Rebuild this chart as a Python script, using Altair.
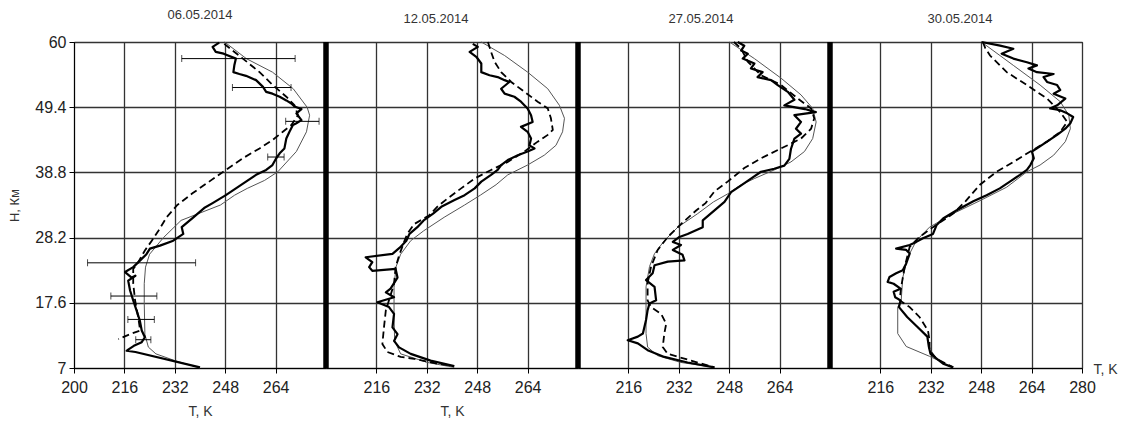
import altair as alt
import pandas as pd

# ---------------- data ----------------
Y_TICKS = [7, 17.6, 28.2, 38.8, 49.4, 60]
DATES = ["06.05.2014", "12.05.2014", "27.05.2014", "30.05.2014"]

# Panel 1 (06.05.2014)
P1_A_H = [59.9, 59.2, 58.4, 58.1, 57.3, 56.2, 55.1, 54.8, 54.5, 53.8, 52.7, 51.9, 51.6, 51.1, 50.5, 50.0, 49.5, 49.1,
          48.4, 47.3, 46.8, 46.5, 45.4, 44.3, 42.7, 41.9, 41.1, 40.0, 39.2, 38.4, 37.3, 36.2, 35.1, 33.8, 33.0, 31.5,
          29.9, 28.8, 27.7, 26.9, 26.4, 25.5, 24.5, 23.4, 22.6, 21.7, 22.0, 21.2, 19.6, 18.0, 16.3, 14.7, 13.1, 12.0,
          11.2, 10.6, 10.0, 9.8, 9.6, 7.1]
P1_A_T = [246.1, 244.0, 245.0, 247.5, 251.4, 250.9, 250.6, 252.5, 254.6, 257.8, 260.0, 261.0, 263.0, 265.3, 267.4,
          269.0, 270.0, 272.2, 270.6, 272.2, 270.6, 269.5, 268.4, 267.4, 266.8, 265.3, 264.2, 263.0, 261.0, 257.8,
          254.6, 251.4, 248.2, 244.0, 241.3, 237.9, 234.2, 234.7, 231.5, 227.3, 224.1, 223.0, 221.0, 218.8, 216.2,
          218.3, 219.5, 217.2, 217.8, 218.8, 219.9, 220.9, 221.5, 222.5, 221.5, 219.0, 217.2, 216.7, 219.5, 240.0]
P1_C_H = [59.7, 57.3, 55.1, 53.0, 51.1, 49.7, 48.1, 46.5, 45.4, 44.1, 42.7, 41.1, 39.2, 37.3, 35.4, 33.5, 31.5, 29.3,
          27.7, 26.1, 24.2, 23.1, 20.7, 18.0, 15.2, 13.1, 12.5, 11.7]
P1_C_T = [247.7, 253.6, 258.9, 263.1, 267.4, 270.0, 271.1, 269.0, 266.3, 263.1, 258.9, 253.6, 248.2, 242.9, 237.6,
          232.8, 229.4, 226.8, 224.7, 222.5, 220.4, 218.8, 218.8, 219.4, 220.4, 221.0, 217.8, 214.1]
P1_D_H = [60.0, 57.3, 55.1, 52.4, 49.4, 48.1, 45.4, 42.2, 38.9, 37.5, 36.2, 35.1, 33.5, 31.0, 28.2, 25.5, 23.4, 20.7,
          17.6, 12.5, 10.4, 9.3, 8.2, 7.0]
P1_D_T = [247.8, 254.7, 263.0, 269.6, 274.0, 274.8, 273.8, 270.6, 264.7, 260.5, 255.0, 251.0, 246.5, 234.0, 228.4,
          224.0, 222.7, 222.3, 222.3, 222.5, 223.6, 226.0, 232.0, 240.0]
P1_ERR_H = [57.3, 52.6, 47.1, 41.3, 24.1, 18.7, 14.9, 11.6]
P1_ERR_LO = [234.2, 250.3, 267.2, 261.5, 204.3, 211.7, 217.1, 219.6]
P1_ERR_HI = [270.2, 268.9, 277.8, 266.7, 238.6, 226.3, 225.5, 224.4]

# Panel 2 (12.05.2014)
P2_A_H = [59.7, 59.2, 58.4, 57.6, 56.5, 55.1, 54.6, 54.3, 53.8, 53.5, 52.4, 51.6, 51.1, 50.3, 49.2, 48.1, 47.0, 46.2,
          45.4, 44.3, 43.2, 42.7, 42.2, 41.6, 40.8, 40.0, 39.2, 38.4, 37.3, 36.2, 35.1, 34.3, 33.2, 32.1, 31.0, 29.9,
          28.8, 27.7, 26.6, 25.55, 25.0, 24.2, 23.4, 22.8, 23.1, 21.7, 19.9, 19.3, 18.5, 17.7, 16.9, 15.8, 13.6, 12.5,
          11.4, 10.35, 9.3, 8.2, 7.3]
P2_A_T = [246.6, 248.2, 245.6, 247.7, 249.3, 249.3, 251.9, 254.5, 256.7, 258.2, 255.6, 256.7, 259.8, 261.9, 264.0,
          265.1, 265.6, 261.9, 264.0, 265.1, 264.6, 266.2, 264.0, 260.9, 257.7, 255.6, 254.5, 252.4, 249.3, 247.2,
          244.0, 240.8, 236.6, 234.0, 231.0, 229.0, 226.5, 225.5, 223.5, 221.1, 212.6, 214.7, 213.7, 214.7, 222.1,
          222.7, 220.5, 219.0, 221.6, 216.3, 220.0, 221.6, 221.1, 222.7, 221.6, 223.2, 226.9, 233.2, 240.7]
P2_C_H = [60.0, 58.4, 56.8, 55.1, 53.5, 51.9, 50.3, 49.2, 47.6, 45.7, 44.9, 43.8, 42.2, 40.5, 39.2, 37.8, 36.2, 34.6,
          33.3, 31.8, 30.4, 28.8, 27.5, 25.3, 23.4, 20.7, 18.0, 16.4, 13.6, 10.9, 9.6, 8.8, 8.5, 7.7, 7.3]
P2_C_T = [251.4, 252.4, 253.5, 255.6, 258.8, 263.0, 267.2, 270.4, 271.4, 272.0, 270.4, 267.2, 263.0, 257.7, 252.4,
          247.2, 242.9, 238.7, 235.5, 232.7, 228.0, 225.8, 224.8, 223.2, 222.1, 221.6, 220.0, 219.0, 218.4, 217.9,
          219.5, 223.7, 228.0, 235.4, 240.7]
P2_D_H = [60.0, 57.8, 55.1, 52.4, 49.7, 47.6, 45.4, 43.2, 41.6, 40.0, 38.4, 36.8, 35.1, 33.5, 31.5, 29.3, 27.7, 25.5,
          23.4, 20.1, 15.2, 11.4, 9.3, 7.9, 7.1]
P2_D_T = [249.3, 256.7, 264.0, 270.4, 274.1, 275.7, 275.1, 273.0, 269.3, 264.0, 257.7, 254.0, 249.0, 244.0, 237.5,
          231.0, 226.9, 223.7, 222.2, 221.6, 221.6, 221.8, 223.7, 232.2, 240.7]

# Panel 3 (27.05.2014)
P3_A_H = [60.0, 59.4, 58.6, 58.1, 57.3, 56.5, 55.7, 55.1, 54.3, 53.8, 53.0, 51.9, 50.6, 49.7, 49.1, 48.6, 48.1, 47.0,
          45.9, 45.1, 44.3, 42.6, 41.0, 39.9, 39.4, 38.9, 37.8, 36.7, 35.6, 34.0, 31.0, 29.9, 28.8, 28.3, 27.5, 27.0,
          26.2, 25.4, 24.5, 24.3, 23.7, 22.4, 21.3, 20.2, 18.0, 17.5, 16.4, 14.8, 12.6, 12.1, 11.5, 11.0, 9.9, 8.8,
          7.9, 7.1]
P3_A_T = [250.7, 252.8, 251.8, 253.9, 252.3, 256.0, 254.9, 258.6, 257.0, 261.3, 263.4, 266.6, 268.7, 265.5, 272.0,
          275.5, 268.7, 270.8, 269.2, 270.8, 268.7, 267.6, 267.1, 265.5, 262.3, 258.1, 254.9, 251.8, 248.6, 246.5,
          239.6, 239.6, 234.8, 232.2, 230.1, 232.7, 230.1, 233.2, 233.8, 228.5, 224.3, 223.7, 221.6, 224.3, 224.8,
          222.7, 222.1, 221.6, 220.6, 219.0, 215.8, 219.0, 222.1, 227.4, 234.8, 243.3]
P3_C_H = [60.0, 58.9, 56.8, 54.6, 53.0, 50.8, 49.2, 47.6, 45.9, 44.3, 42.7, 41.1, 39.5, 37.3, 35.7, 33.8, 32.6, 30.4,
          28.3, 26.2, 23.5, 20.8, 18.0, 16.9, 15.8, 14.2, 12.6, 10.4, 9.3, 8.2, 7.1]
P3_C_T = [249.5, 251.8, 253.9, 258.1, 264.5, 269.8, 274.0, 275.0, 274.0, 270.8, 264.5, 258.1, 252.8, 247.5, 243.3,
          240.5, 237.5, 232.7, 228.5, 225.3, 223.2, 222.1, 222.1, 223.2, 226.4, 228.0, 227.4, 226.9, 228.5, 235.9,
          243.3]
P3_D_H = [60.0, 57.3, 54.1, 51.4, 49.2, 47.0, 44.3, 42.2, 40.5, 39.2, 37.8, 36.7, 35.3, 34.0, 32.1, 29.9, 27.7, 25.6,
          23.5, 20.2, 16.9, 12.6, 10.4, 9.0, 7.9, 7.1]
P3_D_T = [248.1, 256.0, 264.5, 270.8, 274.5, 275.6, 274.5, 271.9, 267.6, 262.3, 256.0, 251.5, 247.5, 243.0, 238.0,
          231.7, 227.4, 224.3, 222.7, 221.6, 221.6, 221.6, 222.1, 225.3, 232.7, 243.3]

# Panel 4 (30.05.2014)
P4_A_H = [60.0, 59.4, 58.9, 58.1, 57.3, 56.7, 56.2, 55.7, 55.1, 54.8, 54.3, 53.5, 53.0, 52.2, 51.6, 50.8, 49.7, 49.2,
          48.9, 48.4, 47.8, 46.8, 45.9, 44.9, 43.8, 42.7, 42.2, 41.1, 40.0, 39.2, 38.4, 37.3, 36.2, 35.1, 34.1, 32.6,
          31.3, 30.2, 28.8, 28.1, 27.5, 27.0, 26.4, 26.2, 25.6, 24.0, 22.9, 22.4, 21.8, 21.0, 20.7, 19.9, 19.4, 18.5,
          18.0, 16.9, 15.3, 13.7, 12.1, 10.4, 9.3, 7.7, 7.1]
P4_A_T = [248.1, 254.0, 258.2, 254.5, 258.2, 262.5, 265.7, 263.0, 265.7, 271.0, 267.8, 268.9, 272.1, 273.1, 271.0,
          274.7, 272.1, 269.9, 273.1, 275.3, 277.2, 276.3, 274.7, 272.1, 268.9, 265.7, 264.1, 264.7, 263.6, 262.5,
          260.3, 257.1, 253.9, 249.7, 245.5, 240.1, 235.9, 233.8, 232.7, 229.5, 227.4, 225.3, 221.0, 224.2, 225.3,
          224.2, 223.1, 221.0, 218.9, 218.3, 220.2, 222.4, 220.2, 220.7, 222.4, 221.9, 224.5, 227.7, 230.9, 231.4,
          231.9, 235.9, 239.1]
P4_C_H = [60.0, 59.0, 57.8, 55.1, 53.0, 50.8, 48.6, 47.0, 45.4, 43.8, 42.2, 40.5, 38.9, 36.8, 34.1, 32.1, 29.9, 28.3,
          26.7, 23.4, 20.2, 18.0, 16.9, 15.3, 13.1, 11.5, 9.9, 8.5, 7.1]
P4_C_T = [248.5, 249.3, 250.8, 256.1, 262.5, 268.9, 273.1, 275.3, 273.1, 268.9, 263.6, 258.2, 252.9, 247.6, 243.0,
          239.1, 232.7, 228.4, 225.3, 223.7, 222.6, 222.1, 225.3, 228.4, 231.1, 231.6, 231.6, 233.8, 239.1]
P4_D_H = [60.0, 56.2, 53.0, 50.3, 48.1, 45.9, 43.8, 41.6, 40.0, 38.9, 36.4, 34.2, 32.1, 29.9, 27.7, 25.0, 21.7, 18.0,
          16.9, 12.6, 10.5, 8.9, 7.1]
P4_D_T = [248.1, 258.2, 266.7, 273.1, 275.8, 276.3, 274.7, 271.0, 266.7, 262.5, 256.1, 247.6, 239.1, 231.6, 227.4,
          224.7, 223.1, 222.6, 221.5, 221.5, 224.2, 231.6, 239.1]

X_TICKS = [[200, 216, 232, 248, 264], [216, 232, 248, 264], [216, 232, 248, 264], [216, 232, 248, 264, 280]]
X_DOMAIN = [200, 280]
Y_DOMAIN = [7, 60]
SEPARATOR_T = [200]

FONT = "Liberation Sans"
PW, PH = 252, 326


def series(h, t):
    return pd.DataFrame({"H": h, "T": t, "i": list(range(len(h)))})


def make_panel(k, a, c, d, errs=None):
    xs = alt.Scale(domain=X_DOMAIN, nice=False, zero=False)
    ys = alt.Scale(domain=Y_DOMAIN, nice=False, zero=False)
    ax_kw = dict(values=X_TICKS[k], grid=True, labelFlush=False, tickSize=5, labelPadding=6,
                 labelFontSize=16, labelFont=FONT, labelColor="#222", format="d")
    if k in (0, 1):
        ax = alt.Axis(title="T, K", titlePadding=9, titleFontSize=14, **ax_kw)
    elif k == 3:
        ax = alt.Axis(title="T, K", titleX=PW + 11, titleY=1, titleAlign="left", titleFontSize=14,
                      titleBaseline="middle", **ax_kw)
    else:
        ax = alt.Axis(title=None, **ax_kw)
    if k == 0:
        ay = alt.Axis(values=Y_TICKS, title="H, Км", grid=True, tickSize=5, labelPadding=3,
                      labelExpr="(datum.value == 7 || datum.value == 60) ? format(datum.value, 'd') : format(datum.value, '.1f')",
                      titlePadding=13, titleFontSize=13, labelFontSize=16, labelFont=FONT, labelColor="#222")
    else:
        ay = alt.Axis(values=Y_TICKS, title=None, grid=True, labels=False, ticks=False, domain=False)

    def xe(field):
        return alt.X(field, type="quantitative", scale=xs, axis=ax)

    ye = alt.Y("H:Q", scale=ys, axis=ay)

    layers = []
    dd = series(*d)
    layers.append(alt.Chart(dd).mark_line(color="#555", strokeWidth=1).encode(
        x=xe("T"), y=ye, order="i:Q"))
    cd = series(*c)
    layers.append(alt.Chart(cd).mark_line(color="black", strokeWidth=1.8, strokeDash=[7, 4]).encode(
        x=xe("T"), y=ye, order="i:Q"))
    ad = series(*a)
    layers.append(alt.Chart(ad).mark_line(color="black", strokeWidth=2.2, strokeJoin="round").encode(
        x=xe("T"), y=ye, order="i:Q"))
    if errs is not None:
        eh, lo, hi = errs
        ed = pd.DataFrame({"H": eh, "lo": lo, "hi": hi})
        layers.append(alt.Chart(ed).mark_rule(color="black", strokeWidth=1).encode(
            x=xe("lo"), x2="hi:Q", y=ye))
        capd = pd.DataFrame({"H": eh + eh, "T": lo + hi})
        layers.append(alt.Chart(capd).mark_tick(color="black", orient="vertical", size=7, thickness=1).encode(
            x=xe("T"), y=ye))
    if k > 0:
        sd = pd.DataFrame({"T": SEPARATOR_T})
        layers.append(alt.Chart(sd).mark_rule(color="black", strokeWidth=5.5, opacity=1).encode(x=xe("T")))

    dxs = [0, -16, -3, 4]
    return alt.layer(*layers).properties(
        width=PW, height=PH,
        title=alt.TitleParams(text=DATES[k], fontSize=13, font=FONT, fontWeight="normal", color="#333",
                              anchor="middle", baseline="alphabetic", offset=2, dx=dxs[k]))


p1 = make_panel(0, (P1_A_H, P1_A_T), (P1_C_H, P1_C_T), (P1_D_H, P1_D_T), (P1_ERR_H, P1_ERR_LO, P1_ERR_HI))
p2 = make_panel(1, (P2_A_H, P2_A_T), (P2_C_H, P2_C_T), (P2_D_H, P2_D_T))
p3 = make_panel(2, (P3_A_H, P3_A_T), (P3_C_H, P3_C_T), (P3_D_H, P3_D_T))
p4 = make_panel(3, (P4_A_H, P4_A_T), (P4_C_H, P4_C_T), (P4_D_H, P4_D_T))

chart = alt.hconcat(p1, p2, p3, p4, spacing=0, bounds="flush").properties(
    padding={"left": 0, "top": 0, "right": 0, "bottom": 0}, background="white"
).configure_view(stroke="black", strokeWidth=1).configure_axis(
    gridColor="#333", gridWidth=1.3, gridOpacity=1, domainColor="black", domainWidth=1, tickColor="black",
    titleFont=FONT, titleFontWeight="normal", titleColor="#333",
)

chart.save("out.html", embed_options={"renderer": "svg", "actions": False})
